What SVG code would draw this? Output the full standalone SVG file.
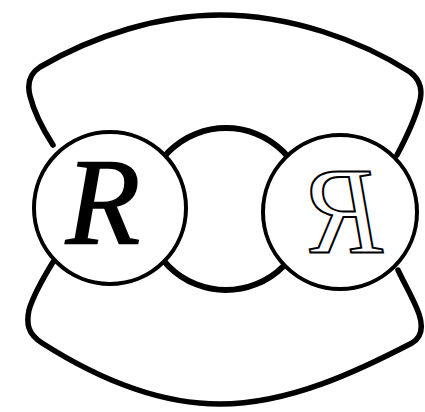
<svg xmlns="http://www.w3.org/2000/svg" width="425" height="412" viewBox="0 0 425 412">
<style>
.lobe{fill:none;stroke:#000;stroke-width:5.5;stroke-linejoin:round;stroke-linecap:round}
.mid{fill:none;stroke:#000;stroke-width:6}
.ring{fill:#fff;stroke:#000;stroke-width:4}
.lt{font-family:"Liberation Serif","Times New Roman",serif;font-style:italic;font-size:122px;text-anchor:middle}
</style>
<rect width="425" height="412" fill="#fff"/>
<g id="connectors">
<path class="lobe" d="M53,145 C42,128 34,112 30,96 C27,84 29,74 40,67 C95,35 160,15 220,15 C290,15 360,40 410,72 C421,80 423,92 419,104 C414,122 405,140 397,155"/>
<path class="lobe" d="M53,262 C42,280 33,296 29,310 C26,324 28,334 42,343 C100,380 160,404 220,404 C290,404 360,370 412,343 C422,337 423,326 419,314 C414,300 405,285 398,270"/>
<circle class="mid" cx="226" cy="209" r="81"/>
</g>
<g id="left">
<circle class="ring" cx="110" cy="208" r="76"/>
<text class="lt" x="103" y="243" stroke="#000" stroke-width="1.5">R</text>
</g>
<g id="right">
<circle class="ring" cx="340" cy="212" r="77"/>
<text class="lt" x="-345" y="252" transform="scale(-1,1)" fill="#fff" stroke="#000" stroke-width="2">R</text>
</g>
</svg>
